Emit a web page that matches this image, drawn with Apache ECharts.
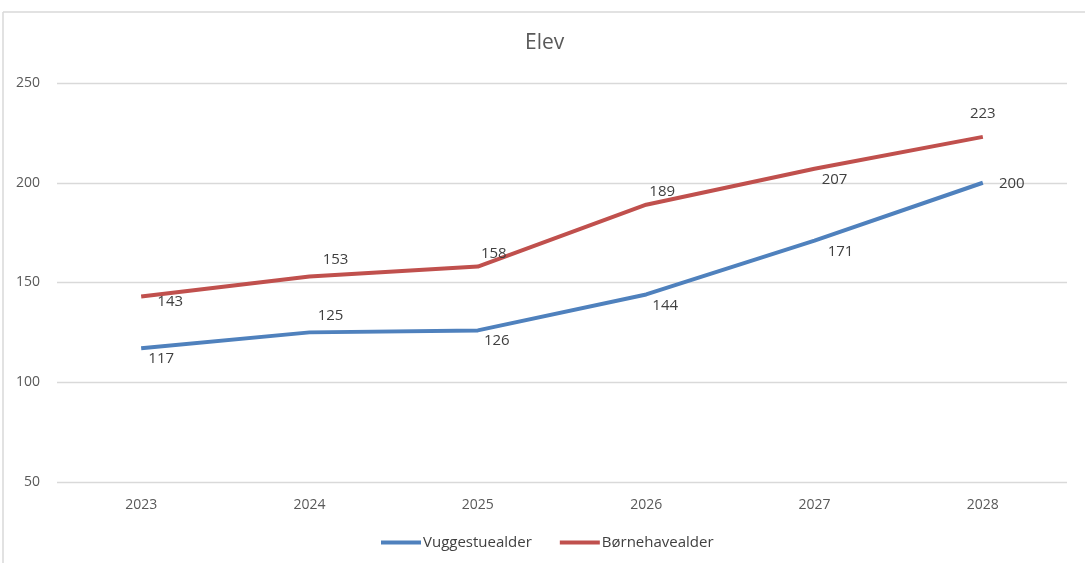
<!DOCTYPE html>
<html><head><meta charset="utf-8">
<script src="https://cdn.jsdelivr.net/npm/echarts@6/dist/echarts.min.js"></script>
<style>html,body{margin:0;padding:0;background:#fff}#c{width:1085px;height:563px}</style>
</head><body><div id="c"></div>
<script>
var years = ['2023','2024','2025','2026','2027','2028'];
var vuggestue = [117,125,126,144,171,200];
var boernehave = [143,153,158,189,207,223];
var vugOffsets = [[20,10],[21,-17],[19,10],[19,11],[26,11],[29,1]];
var boeOffsets = [[29,5],[26,-17],[16,-13],[16,-13],[20,11],[0,-23]];

function mk(vals, offs){
  return vals.map(function(v,i){
    return {value:v, label:{offset:offs[i]}};
  });
}
var font = 'Open Sans, Liberation Sans, sans-serif';
var chart = echarts.init(document.getElementById('c'));
chart.setOption({
  animation:false,
  textStyle:{fontFamily:font},
  title:{text:'Elev', top:28, left:520, textStyle:{fontSize:21, fontWeight:'normal', color:'#595959', fontFamily:font}},
  legend:{bottom:8, left:376, itemWidth:40, itemHeight:4, itemGap:28, icon:'rect',
    textStyle:{fontSize:15, color:'#404040', fontFamily:font, padding:[0,0,0,-3]}},
  grid:{left:57, right:18, top:83, bottom:81, containLabel:false, outerBoundsMode:'none'},
  xAxis:{type:'category', data:years, boundaryGap:true,
    axisLine:{show:false}, axisTick:{show:false},
    axisLabel:{fontSize:14, color:'#595959', margin:16}},
  yAxis:{type:'value', min:50, max:250, interval:50,
    axisLine:{show:false}, axisTick:{show:false},
    axisLabel:{fontSize:14, color:'#595959', margin:17},
    splitLine:{lineStyle:{color:'#d9d9d9', width:1.3}}},
  graphic:[
    {type:'line', shape:{x1:3,y1:12,x2:1085,y2:12}, style:{stroke:'#d9d9d9', lineWidth:1.5}},
    {type:'line', shape:{x1:3,y1:12,x2:3,y2:563}, style:{stroke:'#d9d9d9', lineWidth:1.5}}
  ],
  series:[
    {name:'Vuggestuealder', type:'line', data:mk(vuggestue, vugOffsets),
      symbol:'circle', symbolSize:0.1, showSymbol:true,
      lineStyle:{color:'#4F81BD', width:4}, itemStyle:{color:'#4F81BD'},
      label:{show:true, position:'inside', fontSize:15, color:'#404040', fontFamily:font}},
    {name:'Børnehavealder', type:'line', data:mk(boernehave, boeOffsets),
      symbol:'circle', symbolSize:0.1, showSymbol:true,
      lineStyle:{color:'#C0504D', width:4}, itemStyle:{color:'#C0504D'},
      label:{show:true, position:'inside', fontSize:15, color:'#404040', fontFamily:font}}
  ]
});
</script></body></html>
